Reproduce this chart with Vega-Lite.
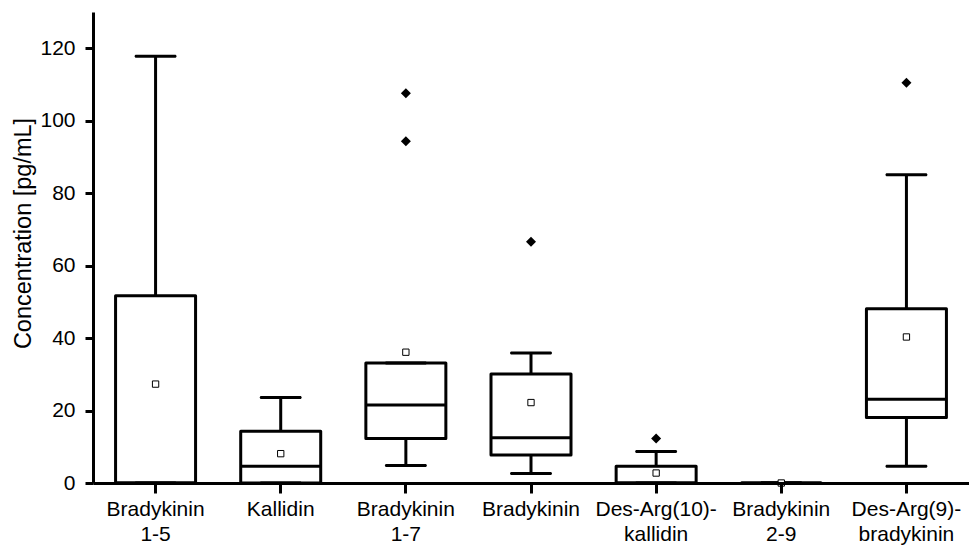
{
  "$schema": "https://vega.github.io/schema/vega-lite/v6.json",
  "autosize": "none",
  "padding": {"left": 93, "top": 12, "right": 0, "bottom": 64},
  "width": 876,
  "height": 471,
  "config": {
    "view": {"stroke": null},
    "font": "Liberation Sans",
    "axis": {"labelFont": "Liberation Sans", "titleFont": "Liberation Sans", "labelColor": "black", "titleColor": "black", "domainColor": "black", "tickColor": "black"}
  },
  "datasets": {
    "boxes": [
      {"cat": "Bradykinin\n1-5", "lo": 0, "q1": 0, "med": 0, "q3": 51.7, "hi": 117.8, "mean": 27.3},
      {"cat": "Kallidin", "lo": 0, "q1": 0, "med": 4.6, "q3": 14.3, "hi": 23.6, "mean": 8.1},
      {"cat": "Bradykinin\n1-7", "lo": 4.8, "q1": 12.3, "med": 21.5, "q3": 33.1, "hi": 33.1, "mean": 36.1},
      {"cat": "Bradykinin", "lo": 2.6, "q1": 7.7, "med": 12.5, "q3": 30.1, "hi": 35.9, "mean": 22.2},
      {"cat": "Des-Arg(10)-\nkallidin", "lo": 0, "q1": 0, "med": 0, "q3": 4.6, "hi": 8.7, "mean": 2.75},
      {"cat": "Bradykinin\n2-9", "lo": 0, "q1": 0, "med": 0, "q3": 0, "hi": 0, "mean": 0},
      {"cat": "Des-Arg(9)-\nbradykinin", "lo": 4.6, "q1": 18.1, "med": 23.1, "q3": 48.1, "hi": 85.1, "mean": 40.3}
    ],
    "outliers": [
      {"cat": "Bradykinin\n1-7", "value": 107.6},
      {"cat": "Bradykinin\n1-7", "value": 94.3},
      {"cat": "Bradykinin", "value": 66.6},
      {"cat": "Des-Arg(10)-\nkallidin", "value": 12.3},
      {"cat": "Des-Arg(9)-\nbradykinin", "value": 110.5}
    ]
  },
  "encoding": {
    "x": {
      "field": "cat", "type": "nominal", "sort": null,
      "scale": {"paddingInner": 0, "paddingOuter": 0},
      "axis": {
        "title": null, "labelAngle": 0, "labelFontSize": 21, "labelLineHeight": 25,
        "labelExpr": "split(datum.value, '\\n')",
        "domainWidth": 3, "tickSize": 10, "tickWidth": 3, "labelPadding": 5, "labelBaseline": "top", "zindex": 1
      }
    }
  },
  "layer": [
    {
      "data": {"name": "boxes"},
      "mark": {"type": "rule", "color": "black", "strokeWidth": 3},
      "encoding": {
        "y": {"field": "lo", "type": "quantitative", "scale": {"domain": [0, 130], "nice": false},
          "axis": {
            "title": "Concentration [pg/mL]", "titleFontSize": 23.5, "titleFontWeight": "normal", "titlePadding": 4,
            "titleY": 221,
            "labelFontSize": 21, "labelPadding": 10, "grid": false,
            "values": [0, 10, 20, 30, 40, 50, 60, 70, 80, 90, 100, 110, 120],
            "labelExpr": "datum.value % 20 === 0 ? datum.label : ''",
            "tickSize": {"condition": {"test": "datum.value % 20 === 0", "value": 8}, "value": 4},
            "tickWidth": 3, "domainWidth": 3, "zindex": 1
          }
        },
        "y2": {"field": "q1"}
      }
    },
    {
      "data": {"name": "boxes"},
      "mark": {"type": "rule", "color": "black", "strokeWidth": 3},
      "encoding": {"y": {"field": "q3", "type": "quantitative"}, "y2": {"field": "hi"}}
    },
    {
      "data": {"name": "boxes"},
      "mark": {"type": "bar", "size": 80, "fill": "white", "stroke": "black", "strokeWidth": 3, "strokeJoin": "round"},
      "encoding": {"y": {"field": "q1", "type": "quantitative"}, "y2": {"field": "q3"}}
    },
    {
      "data": {"name": "boxes"},
      "mark": {"type": "tick", "size": 80, "thickness": 3, "color": "black", "opacity": 1},
      "encoding": {"y": {"field": "med", "type": "quantitative"}}
    },
    {
      "data": {"name": "boxes"},
      "mark": {"type": "tick", "size": 42, "thickness": 3, "color": "black", "opacity": 1, "cornerRadius": 1.5},
      "encoding": {"y": {"field": "hi", "type": "quantitative"}}
    },
    {
      "data": {"name": "boxes"},
      "mark": {"type": "tick", "size": 42, "thickness": 3, "color": "black", "opacity": 1, "cornerRadius": 1.5},
      "encoding": {"y": {"field": "lo", "type": "quantitative"}}
    },
    {
      "data": {"name": "boxes"},
      "mark": {"type": "point", "shape": "square", "size": 40, "filled": true, "fill": "white", "stroke": "black", "strokeWidth": 1, "opacity": 1},
      "encoding": {"y": {"field": "mean", "type": "quantitative"}}
    },
    {
      "data": {"name": "outliers"},
      "mark": {"type": "point", "shape": "diamond", "size": 100, "filled": true, "color": "black", "opacity": 1},
      "encoding": {"y": {"field": "value", "type": "quantitative"}}
    }
  ]
}
